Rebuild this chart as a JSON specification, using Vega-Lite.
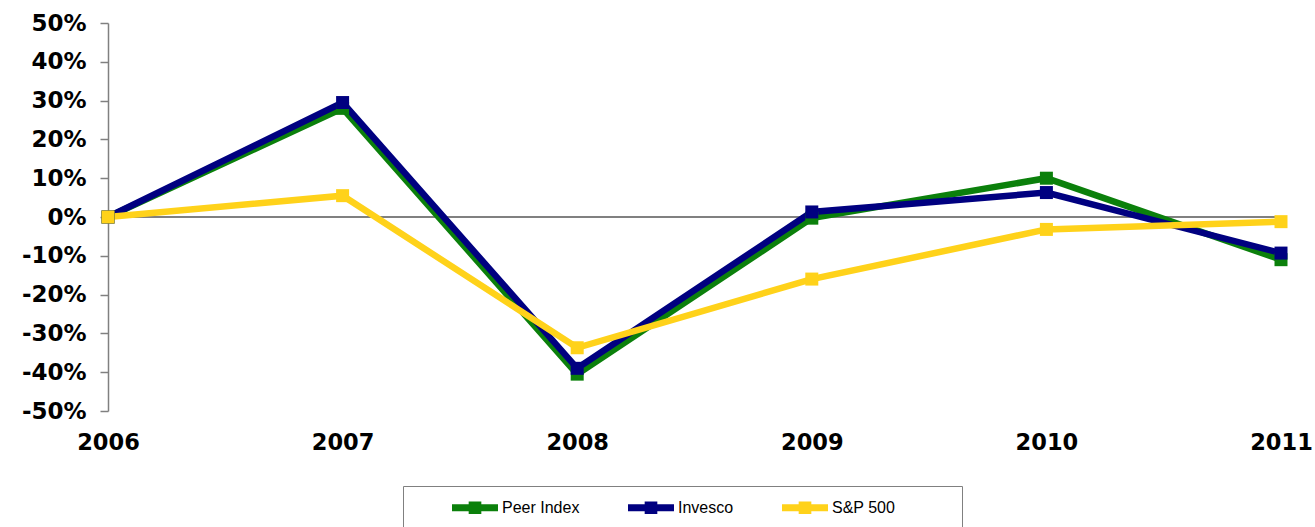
{
  "$schema": "https://vega.github.io/schema/vega-lite/v6.json",
  "width": 1173,
  "height": 388,
  "autosize": {"type": "none"},
  "padding": {"left": 108, "top": 23, "right": 34, "bottom": 116},
  "background": "white",
  "config": {
    "view": {"stroke": null},
    "font": "DejaVu Sans",
    "axis": {"labelOverlap": false, "labelFlush": false, "labelBound": false, "labelFont": "DejaVu Sans"}
  },
  "data": {
    "values": [
      {"series": "Peer Index", "year": 2006, "value": 0},
      {"series": "Peer Index", "year": 2007, "value": 28},
      {"series": "Peer Index", "year": 2008, "value": -40.5},
      {"series": "Peer Index", "year": 2009, "value": -0.3},
      {"series": "Peer Index", "year": 2010, "value": 10},
      {"series": "Peer Index", "year": 2011, "value": -11},
      {"series": "Invesco", "year": 2006, "value": 0},
      {"series": "Invesco", "year": 2007, "value": 29.5},
      {"series": "Invesco", "year": 2008, "value": -39},
      {"series": "Invesco", "year": 2009, "value": 1.3},
      {"series": "Invesco", "year": 2010, "value": 6.3},
      {"series": "Invesco", "year": 2011, "value": -9.3},
      {"series": "S&P 500", "year": 2006, "value": 0},
      {"series": "S&P 500", "year": 2007, "value": 5.5},
      {"series": "S&P 500", "year": 2008, "value": -33.7},
      {"series": "S&P 500", "year": 2009, "value": -16},
      {"series": "S&P 500", "year": 2010, "value": -3.2},
      {"series": "S&P 500", "year": 2011, "value": -1.2}
    ]
  },
  "encoding": {
    "y": {
      "field": "value", "type": "quantitative",
      "scale": {"domain": [-50, 50], "nice": false},
      "axis": {
        "values": [-50, -40, -30, -20, -10, 0, 10, 20, 30, 40, 50],
        "tickCount": 11,
        "labelExpr": "datum.value + '%'",
        "grid": false, "title": null,
        "domainColor": "#808080", "domainWidth": 1.5,
        "tickColor": "#808080", "tickWidth": 1.5, "tickSize": 8,
        "labelPadding": 14, "labelFontSize": 23, "labelFontWeight": "bold",
        "labelColor": "black", "labelFlush": false, "labelOverlap": false
      }
    }
  },
  "layer": [
    {
      "mark": {"type": "rule", "color": "#808080", "strokeWidth": 1.5},
      "encoding": {"y": {"datum": 0, "type": "quantitative"}}
    },
    {
      "mark": {"type": "line", "strokeWidth": 6.5},
      "encoding": {
        "x": {
          "field": "year", "type": "quantitative",
          "scale": {"domain": [2006, 2011], "nice": false, "zero": false},
          "axis": {
            "values": [2006, 2007, 2008, 2009, 2010, 2011], "format": "d",
            "domain": false, "ticks": false, "grid": false, "title": null,
            "labelFontSize": 22.5, "labelFontWeight": "bold", "labelColor": "black",
            "labelPadding": 20, "labelFlush": false, "labelOverlap": false
          }
        },
        "color": {
          "field": "series", "type": "nominal",
          "scale": {"domain": ["Peer Index", "Invesco", "S&P 500"], "range": ["#0B800B", "#000080", "#FFD21A"]},
          "legend": {
            "orient": "none", "legendX": 295, "legendY": 463,
            "direction": "horizontal", "title": " ",
            "titleOrient": "right", "titleFontSize": 32, "titlePadding": 57,
            "strokeColor": "#808080", "padding": 10, "columnPadding": 9,
            "labelFont": "Liberation Sans", "labelFontSize": 16, "labelColor": "black",
            "labelOffset": 15.5,
            "symbolType": "M-2,-0.3L2,-0.3L2,0.3L-2,0.3Z M-0.55,-0.55L0.55,-0.55L0.55,0.55L-0.55,0.55Z",
            "symbolSize": 529, "symbolStrokeWidth": 0, "symbolOpacity": 1, "symbolOffset": 50.5,
            "encode": {
              "symbols": {"update": {"fill": {"scale": "color", "field": "value"}, "strokeWidth": {"value": 0}, "opacity": {"value": 1}}}
            }
          }
        }
      }
    },
    {
      "mark": {"type": "point", "shape": "square", "filled": true, "size": 169, "opacity": 1},
      "encoding": {
        "x": {"field": "year", "type": "quantitative"},
        "color": {"field": "series", "type": "nominal"}
      }
    }
  ]
}
